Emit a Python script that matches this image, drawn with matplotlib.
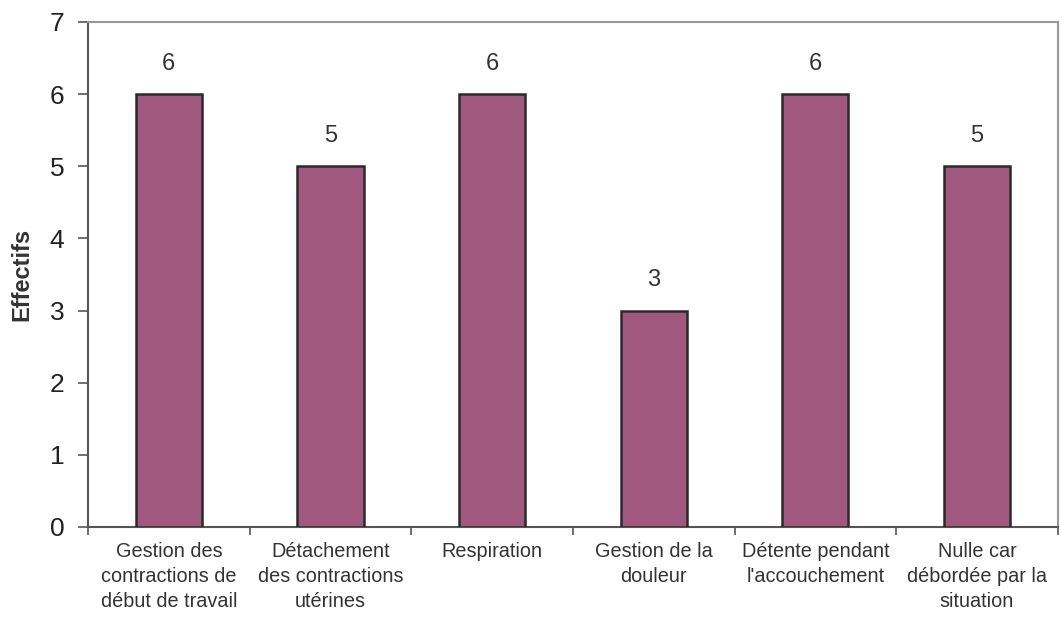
import matplotlib
matplotlib.use("Agg")
import matplotlib.pyplot as plt
import numpy as np

categories = [
    "Gestion des\ncontractions de\ndébut de travail",
    "Détachement\ndes contractions\nutérines",
    "Respiration",
    "Gestion de la\ndouleur",
    "Détente pendant\nl'accouchement",
    "Nulle car\ndébordée par la\nsituation",
]
values = [6, 5, 6, 3, 6, 5]
y_ticks = [0, 1, 2, 3, 4, 5, 6, 7]
y_label = "Effectifs"

plt.rcParams['font.family'] = ['Liberation Sans', 'DejaVu Sans']

fig = plt.figure(figsize=(10.62, 6.21), dpi=100)
ax = fig.add_axes([0.0829, 0.1514, 0.9131, 0.8132])

x = np.arange(len(categories))
bars = ax.bar(x, values, width=0.41, color="#A0587F", edgecolor="#2a2a2a", linewidth=1.8, zorder=3)
for xi, v in zip(x, values):
    ax.text(xi, v + 0.27, str(v), ha="center", va="bottom", fontsize=17, color="#333333")

ax.set_xlim(-0.5, len(categories) - 0.5)
ax.set_ylim(0, 7)
ax.set_yticks(y_ticks)
ax.set_yticklabels([str(t) for t in y_ticks], fontsize=19, color="#222222")
ax.set_xticks(x)
ax.set_xticklabels(categories, fontsize=14.3, color="#333333", linespacing=1.38)
ax.tick_params(axis="x", length=0, pad=11)
ax.set_xticks(np.arange(-0.5, len(categories)), minor=True)
ax.tick_params(axis="x", which="minor", length=6, color="#555555", width=1.2, direction="out")
ax.tick_params(axis="y", length=7, color="#555555", width=1.2, direction="out", pad=10)
ax.set_ylabel(y_label, fontsize=17, fontweight="bold", color="#333333", labelpad=12)

for side in ["top", "right"]:
    ax.spines[side].set_color("#999999")
    ax.spines[side].set_linewidth(1.5)
for side in ["left", "bottom"]:
    ax.spines[side].set_color("#555555")
    ax.spines[side].set_linewidth(1.5)

fig.savefig("out.png", dpi=100, facecolor="white")
